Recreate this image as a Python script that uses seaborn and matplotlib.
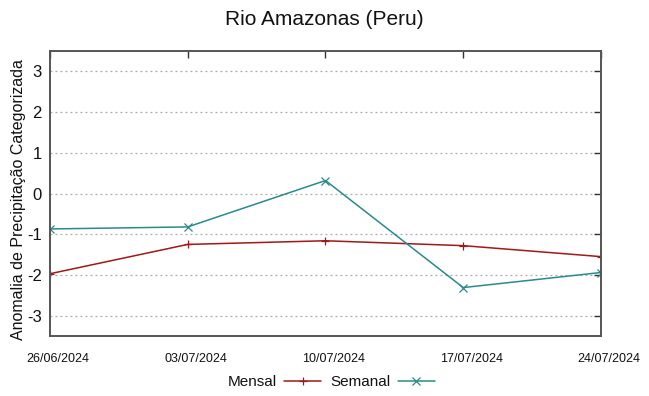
import pandas as pd
import matplotlib
matplotlib.use("Agg")
import matplotlib.pyplot as plt
import matplotlib.dates as mdates
import matplotlib.transforms as mtransforms
import seaborn as sns

# chart data
DATES = ['2024-06-26', '2024-07-03', '2024-07-10', '2024-07-17', '2024-07-24']
MENSAL = [-1.97, -1.25, -1.16, -1.28, -1.55]
SEMANAL = [-0.87, -0.82, 0.32, -2.31, -1.94]
Y_TICKS = [-3, -2, -1, 0, 1, 2, 3]

COLORS = {'Mensal': '#a01818', 'Semanal': '#2a8a8a'}
MARKERS = {'Mensal': '+', 'Semanal': 'x'}

df = pd.DataFrame({
    'date': pd.to_datetime(DATES * 2),
    'value': MENSAL + SEMANAL,
    'serie': ['Mensal'] * len(DATES) + ['Semanal'] * len(DATES),
})

sns.set_style('white')
plt.rcParams['font.family'] = ['Liberation Sans', 'DejaVu Sans']
plt.rcParams['axes.unicode_minus'] = False
plt.rcParams['text.color'] = '#111111'
plt.rcParams['xtick.color'] = '#111111'
plt.rcParams['ytick.color'] = '#111111'
plt.rcParams['axes.labelcolor'] = '#111111'

fig = plt.figure(figsize=(6.49, 3.96), dpi=100)
ax = fig.add_axes([0.077, 0.1515, 0.849, 0.7195])

for name in ['Mensal', 'Semanal']:
    sub = df[df['serie'] == name]
    sns.lineplot(data=sub, x='date', y='value', ax=ax, color=COLORS[name],
                 marker=MARKERS[name], markersize=5.5, markeredgewidth=0.9,
                 markeredgecolor=COLORS[name], linewidth=1.1, label=name)

ax.set_xlim(pd.to_datetime(DATES[0]), pd.to_datetime(DATES[-1]))
ax.set_ylim(-3.5, 3.5)
ax.set_xticks(pd.to_datetime(DATES))
ax.xaxis.set_major_formatter(mdates.DateFormatter('%d/%m/%Y'))
ax.set_yticks(Y_TICKS)
ax.tick_params(axis='x', labelsize=9, direction='in', top=True, length=5,
               width=1, color='#333333', pad=12)
ax.tick_params(axis='y', labelsize=12, direction='in', right=True, length=5,
               width=1, color='#333333', pad=6)
shift = mtransforms.ScaledTranslation(8 / 100, 0, fig.dpi_scale_trans)
for lbl in ax.get_xticklabels():
    lbl.set_transform(lbl.get_transform() + shift)
ax.yaxis.grid(True, linestyle=(0, (1.5, 2.5)), color='#aaaaaa', linewidth=0.9)
ax.xaxis.grid(False)
for sp in ax.spines.values():
    sp.set_color('#555555')
    sp.set_linewidth(1.4)

ax.set_xlabel('')
ax.set_ylabel('Anomalia de Precipitação Categorizada', fontsize=11.5, labelpad=2)
ax.yaxis.set_label_coords(-0.043, 0.48)
fig.suptitle('Rio Amazonas (Peru)', fontsize=15, y=0.975)

ax.get_legend().remove()
handles, labels = ax.get_legend_handles_labels()
fig.legend(handles, labels, loc='center', bbox_to_anchor=(0.51, 0.035),
           ncol=2, frameon=False, markerfirst=False, fontsize=11,
           handlelength=2.4, columnspacing=0.6, handletextpad=0.5)

fig.savefig('out.png', dpi=100)
